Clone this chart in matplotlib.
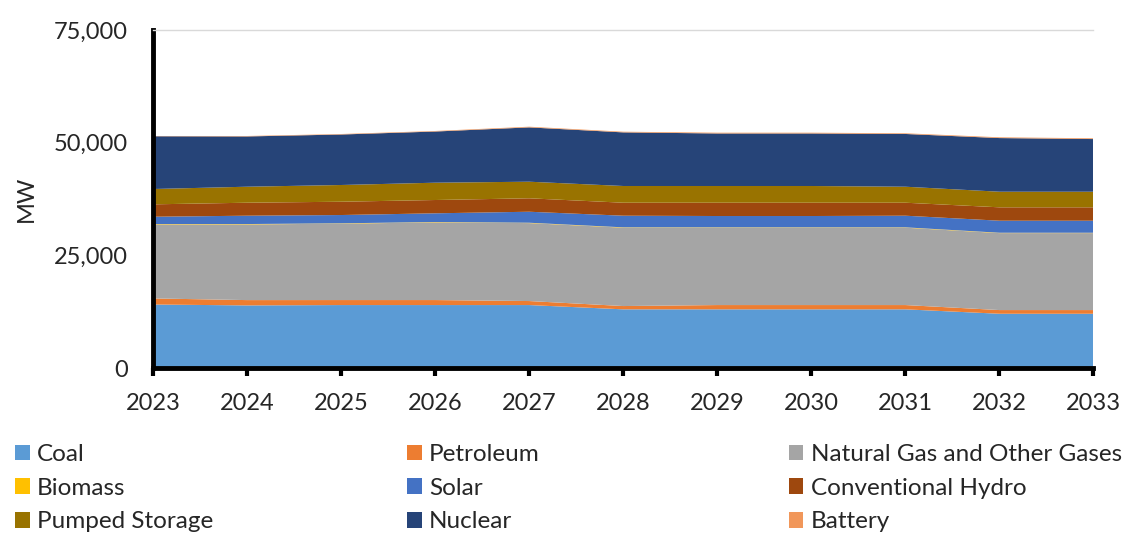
import matplotlib.pyplot as plt
import numpy as np

plt.rcParams['font.family'] = ['Lato', 'DejaVu Sans']

years = [2023, 2024, 2025, 2026, 2027, 2028, 2029, 2030, 2031, 2032, 2033]

coal = [14100, 13900, 13980, 13980, 13980, 13030, 13030, 13030, 13030, 12050, 12050]
petroleum = [1350, 1180, 1110, 1110, 890, 730, 950, 950, 950, 820, 820]
natural_gas = [16400, 16780, 16940, 17230, 17290, 17380, 17160, 17160, 17160, 17070, 17070]
biomass = [100, 90, 80, 80, 80, 80, 80, 80, 80, 80, 80]
solar = [1620, 1850, 1840, 1930, 2440, 2580, 2510, 2510, 2580, 2670, 2670]
hydro = [2750, 2880, 2950, 2950, 2980, 2880, 2950, 2950, 2880, 2970, 2970]
pumped = [3400, 3550, 3710, 3840, 3680, 3710, 3710, 3710, 3550, 3460, 3460]
nuclear = [11700, 11150, 11200, 11350, 12050, 11890, 11650, 11650, 11700, 11900, 11680]
battery = [60, 100, 110, 120, 150, 150, 170, 170, 150, 170, 170]

labels = ['Coal', 'Petroleum', 'Natural Gas and Other Gases', 'Biomass', 'Solar',
          'Conventional Hydro', 'Pumped Storage', 'Nuclear', 'Battery']
colors = ['#5B9BD5', '#ED7D31', '#A5A5A5', '#FFC000', '#4472C4',
          '#9E480E', '#997300', '#264478', '#F1975A']

fig = plt.figure(figsize=(11.29, 5.35), dpi=100)
ax = fig.add_axes([0.1355, 0.312, 0.833, 0.632])

polys = ax.stackplot(years, coal, petroleum, natural_gas, biomass, solar, hydro,
                     pumped, nuclear, battery, colors=colors, labels=labels, lw=0)

ax.set_xlim(2023, 2033)
ax.set_ylim(0, 75000)
ax.set_xticks(years)
ax.set_yticks([0, 25000, 50000, 75000])
ax.set_yticklabels(['0', '25,000', '50,000', '75,000'])
ax.tick_params(axis='y', length=0, labelsize=17, pad=18, colors='#262626')
ax.tick_params(axis='x', length=6, width=3, labelsize=17, pad=12, direction='out', labelcolor='#262626')
ax.set_ylabel('MW', fontsize=17, labelpad=12, color='#262626')

for s in ['left', 'bottom']:
    ax.spines[s].set_linewidth(3.5)
    ax.spines[s].set_color('black')
ax.spines['right'].set_visible(False)
ax.spines['top'].set_color('#D9D9D9')
ax.spines['top'].set_linewidth(1)

# legend laid out in rows like the original, three columns
cols = [[0, 3, 6], [1, 4, 7], [2, 5, 8]]
xs = [0.005, 0.352, 0.69]
for c, x in zip(cols, xs):
    fig.legend([polys[i] for i in c], [labels[i] for i in c], loc='upper left',
               bbox_to_anchor=(x, 0.188), frameon=False, fontsize=17.5,
               handlelength=0.6, handleheight=0.6, handletextpad=0.3,
               labelspacing=0.52, borderaxespad=0, labelcolor='#262626')

fig.savefig('out.png', dpi=100)
